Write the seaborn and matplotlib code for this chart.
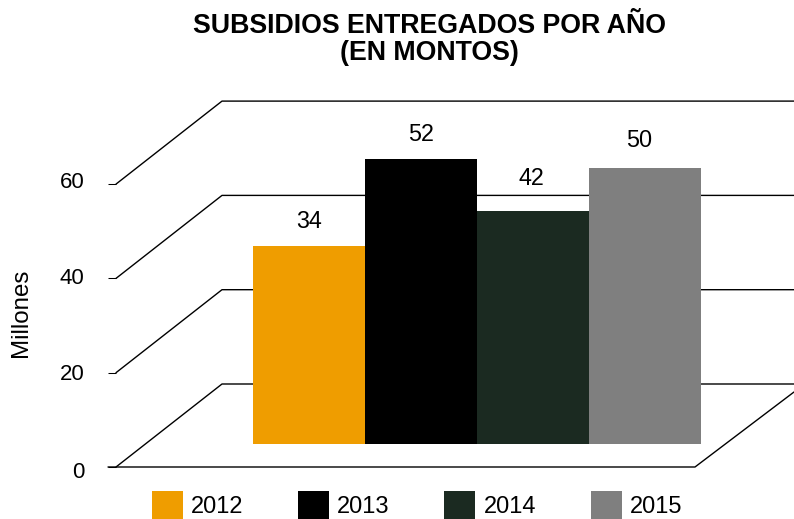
import matplotlib
matplotlib.use("Agg")
import matplotlib.pyplot as plt
from matplotlib.transforms import ScaledTranslation
import pandas as pd
import seaborn as sns

years = ["2012", "2013", "2014", "2015"]
label_values = [34, 52, 42, 50]
drawn_heights = [35.9, 51.7, 42.3, 50.1]
colors = ["#EF9D00", "#000000", "#1B2A21", "#7F7F7F"]
y_ticks = [0, 20, 40, 60]
y_label_shift_px = [-3, 1, 2, 4]
label_shift_x_px = [0, 0, -2, -6]
label_shift_y_px = [-6, -6, 1, -3]
title = "SUBSIDIOS ENTREGADOS POR AÑO\n(EN MONTOS)"
y_title = "Millones"

W, H = 794, 519
sns.set_theme(style="white")
plt.rcParams["font.family"] = ["Liberation Sans", "DejaVu Sans"]
fig = plt.figure(figsize=(W / 100, H / 100), dpi=100)


def px_axes(left, right, top, bottom):
    return fig.add_axes([left / W, 1 - bottom / H, (right - left) / W, (bottom - top) / H])


# Frame axes: x in px from the left edge, y in chart units at the front plane
px_per_unit = 4.715
front_base, wall_x, depth = 467.0, 222.0, 83.0
ax = px_axes(116, W, 100, front_base)
ax.set_xlim(116, W)
ax.set_ylim(0, (front_base - 100) / px_per_unit)
dv = depth / px_per_unit
for v in y_ticks:
    ax.plot([116, wall_x, W], [v, v + dv, v + dv], color="black", lw=1.0, clip_on=False, zorder=1)
ax.plot([108, 695, W], [0, 0, 75 / px_per_unit], color="black", lw=1.0, clip_on=False)
sns.despine(ax=ax, left=True, bottom=True, top=True, right=True)
ax.set_xticks([])
ax.set_yticks(y_ticks)
ax.set_yticklabels([str(t) for t in y_ticks], fontsize=16, color="black")
ax.tick_params(axis="y", length=5.8, width=0.75, color="black", pad=17, left=True)
for lab, s in zip(ax.get_yticklabels(), y_label_shift_px):
    lab.set_transform(lab.get_transform() + ScaledTranslation(0, s / 100, fig.dpi_scale_trans))
ax.patch.set_alpha(0)

# Bars on their own plane
bar_scale = 5.5
bx = px_axes(253, 701, 100, 443.5)
df = pd.DataFrame({"year": years, "height": drawn_heights})
sns.barplot(data=df, x="year", y="height", hue="year", palette=colors, width=1.0, dodge=False,
            saturation=1, legend=True, ax=bx, linewidth=0)
bx.set_xlim(-0.5, 3.5)
bx.set_ylim(0, (443.5 - 100) / bar_scale)
bx.axis("off")
for c, lv, sx, sy in zip(bx.containers, label_values, label_shift_x_px, label_shift_y_px):
    for ann in bx.bar_label(c, labels=[str(lv)], padding=14, fontsize=16.8, color="black"):
        x0, y0 = ann.xyann
        ann.xyann = (x0 + sx * 0.72, y0 + sy * 0.72)
handles, labels = bx.get_legend_handles_labels()
bx.get_legend().remove()
fig.legend(handles, labels, ncol=4, loc="lower left", bbox_to_anchor=(152 / W, 0), borderaxespad=0, borderpad=0,
           frameon=False, fontsize=17, handlelength=1.31, handleheight=1.42, handletextpad=0.34,
           columnspacing=2.32, labelcolor="black")

fig.text(429 / W, 1 - 39.5 / H, title, ha="center", va="center", fontsize=19.3, fontweight="bold", color="black", linespacing=1.06)
fig.text(21.5 / W, 1 - 313 / H, y_title, ha="center", va="center", rotation=90, fontsize=17.4, color="black")
fig.savefig("out.png", dpi=100)
